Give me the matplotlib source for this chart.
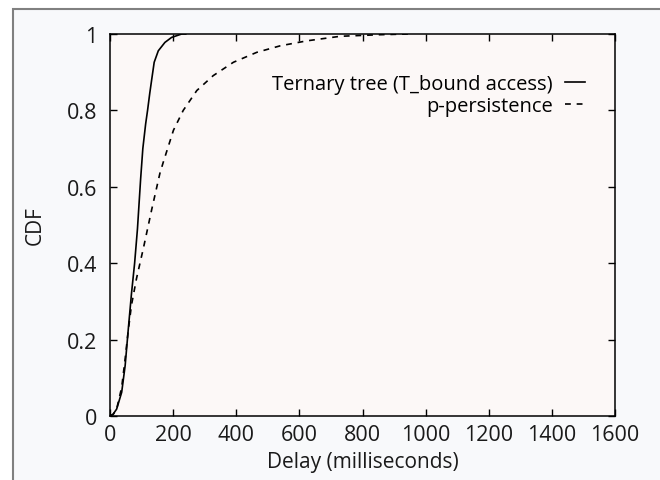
import matplotlib
matplotlib.use('Agg')
import matplotlib.pyplot as plt
from matplotlib.patches import Rectangle
from matplotlib.ticker import FuncFormatter

# delay CDF, read as (milliseconds, fraction)
tree_ms  = [0, 10, 21, 37, 48, 58, 68, 78, 87, 97, 104, 113, 119, 126, 132, 140,
            153, 174, 195, 227, 240]
tree_cdf = [0, 0.005, 0.018, 0.062, 0.132, 0.228, 0.320, 0.400, 0.490, 0.620, 0.700,
            0.765, 0.800, 0.845, 0.880, 0.926, 0.956, 0.978, 0.991, 1.0, 1.0]

pp_ms  = [0, 10, 21, 37, 48, 58, 68, 84, 106, 132, 158, 169, 201, 232, 275, 327,
          391, 465, 539, 623, 729, 850, 944]
pp_cdf = [0, 0.004, 0.018, 0.075, 0.150, 0.225, 0.290, 0.360, 0.440, 0.540, 0.635,
          0.665, 0.748, 0.800, 0.852, 0.891, 0.926, 0.952, 0.969, 0.982, 0.994,
          0.998, 1.0]

labels = ['Ternary tree (T_bound access)', 'p-persistence']
xticks = [0, 200, 400, 600, 800, 1000, 1200, 1400, 1600]
yticks = [0, 0.2, 0.4, 0.6, 0.8, 1]

plt.rcParams['font.family'] = ['Open Sans', 'DejaVu Sans']
plt.rcParams['font.size'] = 15

W, H = 660, 481
fig = plt.figure(figsize=(W / 100, H / 100), dpi=100, facecolor='white')

# outer panel with grey border on top and left
fig.patches.append(Rectangle((13 / W, -0.1), 1.0, (H - 9.5) / H + 0.1,
                             transform=fig.transFigure, facecolor='#f8f9fb',
                             edgecolor='#808080', linewidth=1.5, zorder=-10))

ax = fig.add_axes([110 / W, (H - 417) / H, 505 / W, 382 / H])
ax.set_facecolor('#fcf8f7')

ax.plot(tree_ms, tree_cdf, '-', color='black', lw=1.2, solid_joinstyle='round',
        label=labels[0])
ax.plot(pp_ms, pp_cdf, '--', color='black', lw=1.2, dashes=(3.5, 3.5), label=labels[1])

ax.set_xlim(0, 1600)
ax.set_ylim(0, 1)
ax.set_xticks(xticks)
ax.set_yticks(yticks)
ax.yaxis.set_major_formatter(FuncFormatter(lambda v, p: '%g' % v))
ax.tick_params(direction='in', length=5, width=1, top=True, right=True,
               colors='black', labelcolor='#1a1a1a', labelsize=15.5)
ax.tick_params(axis='y', pad=9)
ax.tick_params(axis='x', pad=6)
for s in ax.spines.values():
    s.set_linewidth(1.1)

ax.set_xlabel('Delay (milliseconds)', color='#1a1a1a', labelpad=4)
ax.set_ylabel('CDF', color='#1a1a1a', labelpad=15)

ax.legend(loc='upper right', bbox_to_anchor=(475 / 505, (417 - 75) / 382),
          frameon=False, markerfirst=False, alignment='right', fontsize=14.5,
          handlelength=1.0, handletextpad=0.6, labelspacing=0.1, borderpad=0,
          borderaxespad=0)

plt.savefig('out.png', dpi=100, facecolor=fig.get_facecolor())
